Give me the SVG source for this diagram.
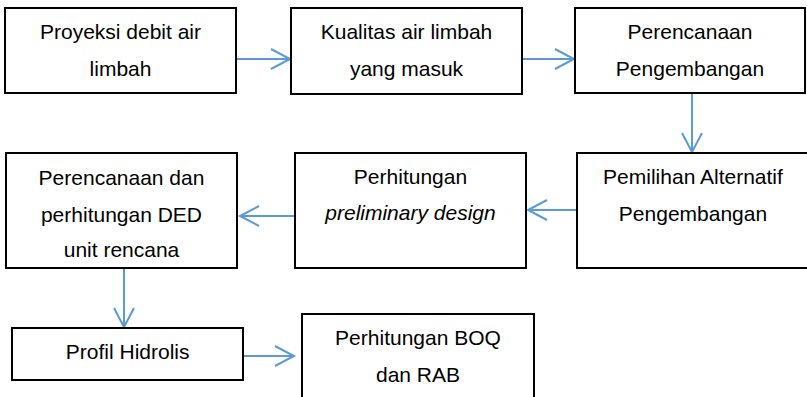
<svg xmlns="http://www.w3.org/2000/svg" width="807" height="397" viewBox="0 0 807 397">
  <style>
    .box { fill: #ffffff; stroke: #000000; stroke-width: 2; }
    .lbl { font-family: "Liberation Sans", Arial, sans-serif; font-size: 21px; fill: #000000; text-anchor: middle; }
    .it { font-style: italic; }
    .flow { fill: none; stroke: #5B9BD5; stroke-width: 2; marker-end: url(#ah); }
  </style>
  <defs>
    <marker id="ah" markerUnits="userSpaceOnUse" viewBox="-22 -12 24 24" refX="0" refY="0" markerWidth="24" markerHeight="24" orient="auto" overflow="visible">
      <path d="M-19,-10 L0,0 L-19,10" fill="none" stroke="#5B9BD5" stroke-width="2"/>
    </marker>
  </defs>
  <rect width="807" height="397" fill="#ffffff"/>

  <g id="connectors">
    <line class="flow" x1="236" y1="59" x2="290" y2="59"/>
    <line class="flow" x1="522" y1="59" x2="574" y2="59"/>
    <line class="flow" x1="692" y1="93" x2="692" y2="152"/>
    <line class="flow" x1="577" y1="210" x2="528" y2="210"/>
    <line class="flow" x1="295" y1="216" x2="240" y2="216"/>
    <line class="flow" x1="124" y1="268" x2="124" y2="327"/>
    <line class="flow" x1="243" y1="356" x2="294" y2="356"/>
  </g>

  <g id="proyeksi">
    <rect class="box" x="5" y="8" width="231" height="85"/>
    <text class="lbl" x="120.5" y="39">Proyeksi debit air</text>
    <text class="lbl" x="120.5" y="76">limbah</text>
  </g>

  <g id="kualitas">
    <rect class="box" x="291" y="8" width="231" height="86"/>
    <text class="lbl" x="406.5" y="39">Kualitas air limbah</text>
    <text class="lbl" x="406.5" y="76">yang masuk</text>
  </g>

  <g id="perencanaan">
    <rect class="box" x="575" y="8" width="230" height="85"/>
    <text class="lbl" x="690" y="39">Perencanaan</text>
    <text class="lbl" x="690" y="76">Pengembangan</text>
  </g>

  <g id="pemilihan">
    <rect class="box" x="577" y="153" width="233" height="115"/>
    <text class="lbl" x="693" y="184">Pemilihan Alternatif</text>
    <text class="lbl" x="693" y="221">Pengembangan</text>
  </g>

  <g id="preliminary">
    <rect class="box" x="295" y="153" width="231" height="115"/>
    <text class="lbl" x="410.5" y="184">Perhitungan</text>
    <text class="lbl it" x="410.5" y="220">preliminary design</text>
  </g>

  <g id="ded">
    <rect class="box" x="6" y="153" width="231" height="115"/>
    <text class="lbl" x="121.5" y="185">Perencanaan dan</text>
    <text class="lbl" x="121.5" y="222">perhitungan DED</text>
    <text class="lbl" x="121.5" y="257">unit rencana</text>
  </g>

  <g id="profil">
    <rect class="box" x="12" y="328" width="231" height="52"/>
    <text class="lbl" x="127.7" y="359">Profil Hidrolis</text>
  </g>

  <g id="boq">
    <rect class="box" x="302" y="314" width="232" height="100"/>
    <text class="lbl" x="418" y="345">Perhitungan BOQ</text>
    <text class="lbl" x="418" y="382">dan RAB</text>
  </g>
</svg>
